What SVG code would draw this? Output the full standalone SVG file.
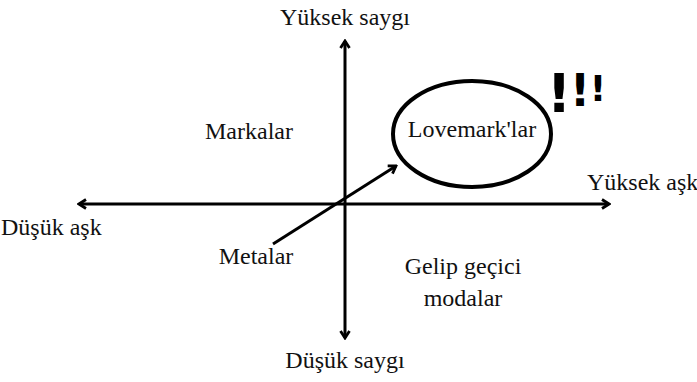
<svg xmlns="http://www.w3.org/2000/svg" width="697" height="382" viewBox="0 0 697 382">
<style>
.t{font-family:"Liberation Serif","Times New Roman",serif;font-size:24px;fill:#111}
.ax{stroke:#000;stroke-width:3;fill:none}
.ex{font-family:"DejaVu Sans","Liberation Sans",sans-serif;font-weight:bold;fill:#000;text-anchor:middle}
</style>
<defs>
<marker id="ah" viewBox="0 0 12 12" refX="10" refY="6" markerWidth="12" markerHeight="12" markerUnits="userSpaceOnUse" orient="auto">
<path d="M3,1.5 L10,6 L3,10.5" fill="none" stroke="#000" stroke-width="2.8" stroke-linejoin="miter"/>
</marker>
</defs>
<rect width="697" height="382" fill="#fff"/>
<g id="connectors">
<line class="ax" x1="345" y1="204" x2="345" y2="41" marker-end="url(#ah)"/>
<line class="ax" x1="345" y1="204" x2="345" y2="338" marker-end="url(#ah)"/>
<line class="ax" x1="345" y1="204" x2="79" y2="204" marker-end="url(#ah)"/>
<line class="ax" x1="345" y1="204" x2="609" y2="204" marker-end="url(#ah)"/>
<line class="ax" x1="273" y1="244" x2="396" y2="166" marker-end="url(#ah)"/>
</g>
<g id="lovemarks">
<ellipse cx="472" cy="134" rx="79" ry="53" fill="none" stroke="#000" stroke-width="4"/>
<text class="t" x="472" y="137" text-anchor="middle">Lovemark'lar</text>
</g>
<g id="exclaim">
<text class="ex" x="559" y="112" font-size="54">!</text>
<text class="ex" x="580" y="106" font-size="44">!</text>
<text class="ex" x="598" y="101" font-size="36">!</text>
</g>
<g id="yuksek-saygi"><text class="t" x="345" y="25" text-anchor="middle">Yüksek saygı</text></g>
<g id="dusuk-saygi"><text class="t" x="345" y="368" text-anchor="middle">Düşük saygı</text></g>
<g id="yuksek-ask"><text class="t" x="587" y="190">Yüksek aşk</text></g>
<g id="dusuk-ask"><text class="t" x="1" y="235">Düşük aşk</text></g>
<g id="markalar"><text class="t" x="249" y="139" text-anchor="middle">Markalar</text></g>
<g id="metalar"><text class="t" x="256" y="264" text-anchor="middle">Metalar</text></g>
<g id="gelip"><text class="t" x="463" y="274" text-anchor="middle">Gelip geçici</text><text class="t" x="463" y="306" text-anchor="middle">modalar</text></g>
</svg>
